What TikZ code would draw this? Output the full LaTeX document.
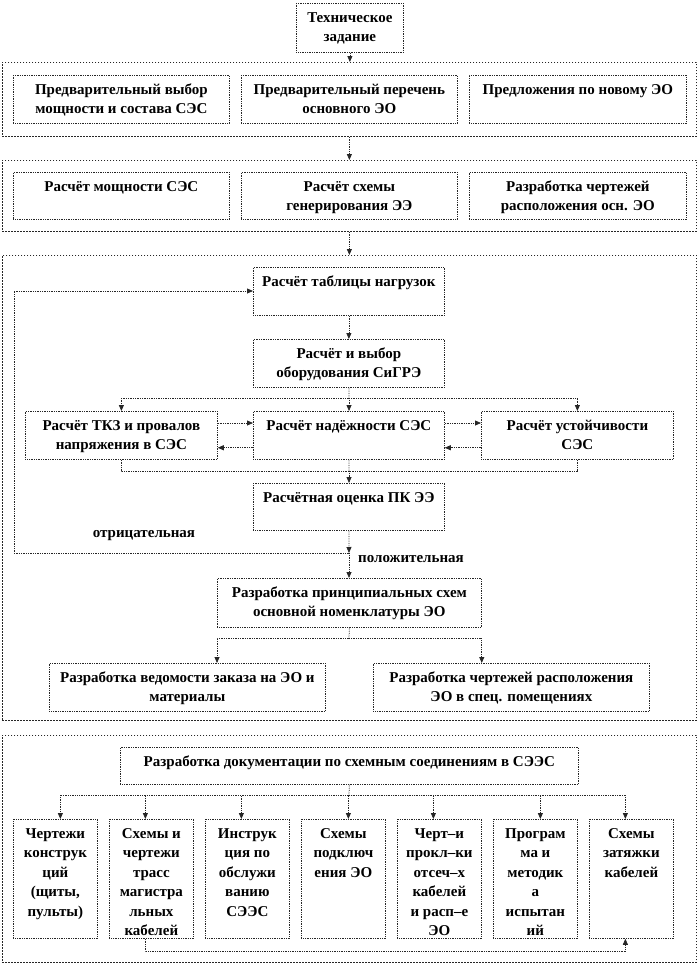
\documentclass[tikz,border=0pt]{standalone}
\usepackage{fontspec}
\setmainfont{Liberation Serif}
\usetikzlibrary{arrows.meta,calc}

\tikzset{
  x=1pt, y=-1pt,
  boxst/.style={draw=black!85, densely dotted, line width=0.75pt, fill=white,
    inner sep=0pt, anchor=north west,
    font=\fontsize{15}{19.5}\selectfont\bfseries},
  grp/.style={draw=black!85, dash pattern=on 1.2pt off 1.8pt, line width=0.75pt,
    inner sep=0pt, anchor=north west},
  con/.style={draw=black!85, densely dotted, line width=0.75pt},
  arr/.style={con, -{Triangle[length=6pt,width=5pt]}},
  lbl/.style={font=\fontsize{15}{19.5}\selectfont\bfseries, inner sep=0pt}
}

\newcommand{\bx}[6]{%
  \node[boxst, minimum width=#4pt, minimum height=#5pt] (#1) at (#2,#3)
   {\begin{minipage}[t][#5pt][t]{#4pt}\centering\vspace*{5pt}\strut #6\end{minipage}};}

\begin{document}
\begin{tikzpicture}
\useasboundingbox (0,0) rectangle (698,964);

% groups
\node[grp, minimum width=694pt, minimum height=74pt] (g1) at (2,62) {};
\node[grp, minimum width=694pt, minimum height=71pt] (g2) at (2,160) {};
\node[grp, minimum width=694pt, minimum height=465pt] (g3) at (2,255) {};
\node[grp, minimum width=694pt, minimum height=227pt] (g4) at (2,735) {};

% boxes
\bx{tz}{296}{3}{107}{49}{Техническое\\задание}
\bx{r1a}{13}{75}{216}{48}{Предварительный выбор\\мощности и состава СЭС}
\bx{r1b}{241}{75}{216}{48}{Предварительный перечень\\основного ЭО}
\bx{r1c}{469}{75}{217}{48}{Предложения по новому ЭО}
\bx{r2a}{13}{172}{216}{47}{Расчёт мощности СЭС}
\bx{r2b}{241}{172}{216}{47}{Расчёт схемы\\генерирования ЭЭ}
\bx{r2c}{469}{172}{217}{47}{Разработка чертежей\\расположения осн. ЭО}
\bx{tab}{253}{267}{191}{48}{Расчёт таблицы нагрузок}
\bx{sig}{253}{339}{191}{48}{Расчёт и выбор\\оборудования СиГРЭ}
\bx{tkz}{25}{411}{192}{48}{Расчёт ТКЗ и провалов\\напряжения в СЭС}
\bx{nad}{253}{411}{191}{48}{Расчёт надёжности СЭС}
\bx{ust}{481}{411}{192}{48}{Расчёт устойчивости\\СЭС}
\bx{pk}{253}{483}{191}{47}{Расчётная оценка ПК ЭЭ}
\bx{prn}{217}{578}{264}{49}{Разработка принципиальных схем\\основной номенклатуры ЭО}
\bx{ved}{49}{663}{276}{48}{Разработка ведомости заказа на ЭО и\\материалы}
\bx{chr}{373}{663}{276}{48}{Разработка чертежей расположения\\ЭО в спец. помещениях}
\bx{doc}{120}{747}{458}{37}{Разработка документации по схемным соединениям в СЭЭС}
\bx{b1}{13}{819}{84}{119}{Чертежи\\конструк\\ций\\(щиты,\\пульты)}
\bx{b2}{109}{819}{84}{119}{Схемы и\\чертежи\\трасс\\магистра\\льных\\кабелей}
\bx{b3}{205}{819}{84}{119}{Инструк\\ция по\\обслужи\\ванию\\СЭЭС}
\bx{b4}{301}{819}{84}{119}{Схемы\\подключ\\ения ЭО}
\bx{b5}{397}{819}{84}{119}{Черт–и\\прокл–ки\\отсеч–х\\кабелей\\и расп–е\\ЭО}
\bx{b6}{493}{819}{84}{119}{Програм\\ма и\\методик\\а\\испытан\\ий}
\bx{b7}{589}{819}{84}{119}{Схемы\\затяжки\\кабелей}

% labels
\node[lbl] (neg) at (144,536) {отрицательная};
\node[lbl] (pos) at (411,559) {положительная};

% junction coordinates
\coordinate (d1) at (349,398);
\coordinate (c1) at (349,471);
\coordinate (j) at (349,553);
\coordinate (lp) at (14,553);
\coordinate (d2) at (349,638);
\coordinate (d3) at (349,795);

% connectors between groups
\draw[arr] (tz.south) -- (tz.south |- g1.north);
\draw[arr] (g1.south) -- (g2.north);
\draw[arr] (g2.south) -- (g3.north);

% group 3
\draw[arr] (tab.south) -- (tab.south |- sig.north);
\draw[con] (sig.south) -- (d1);
\draw[arr] (d1) -| (tkz.north);
\draw[arr] (d1) -| (ust.north);
\draw[arr] (d1) -- (d1 |- nad.north);
\draw[arr] ([yshift=-12pt]tkz.north east) -- ([yshift=-12pt]nad.north west);
\draw[arr] ([yshift=-12pt]nad.north east) -- ([yshift=-12pt]ust.north west);
\draw[arr] ([yshift=12pt]ust.south west) -- ([yshift=12pt]nad.south east);
\draw[arr] ([yshift=12pt]nad.south west) -- ([yshift=12pt]tkz.south east);
\draw[con] (tkz.south) |- (c1);
\draw[con] (ust.south) |- (c1);
\draw[con] (nad.south) -- (c1);
\draw[arr] (c1) -- (c1 |- pk.north);
\draw[arr] (pk.south) -- (j);
\draw[arr] (j) -- (j |- prn.north);
\draw[arr] (j) -- (lp) |- ([yshift=-24pt]tab.north west);
\draw[con] (prn.south) -- (d2);
\draw[arr] (d2) -| (ved.north -| prn.south west);
\draw[arr] (d2) -| (chr.north -| prn.south east);

% group 4
\draw[con] (doc.south) -- (d3);
\draw[arr] (d3) -| ([xshift=5pt]b1.north);
\draw[arr] (d3) -| ([xshift=-6pt]b2.north);
\draw[arr] (d3) -| ([xshift=-6pt]b3.north);
\draw[arr] (d3) -| ([xshift=5pt]b4.north);
\draw[arr] (d3) -| ([xshift=-6pt]b5.north);
\draw[arr] (d3) -| ([xshift=5pt]b6.north);
\draw[arr] (d3) -| ([xshift=-6pt]b7.north);
\draw[arr] ([xshift=-6pt]b2.south) -- ++(0pt,-13pt) -| ([xshift=-6pt]b7.south);
\end{tikzpicture}
\end{document}
